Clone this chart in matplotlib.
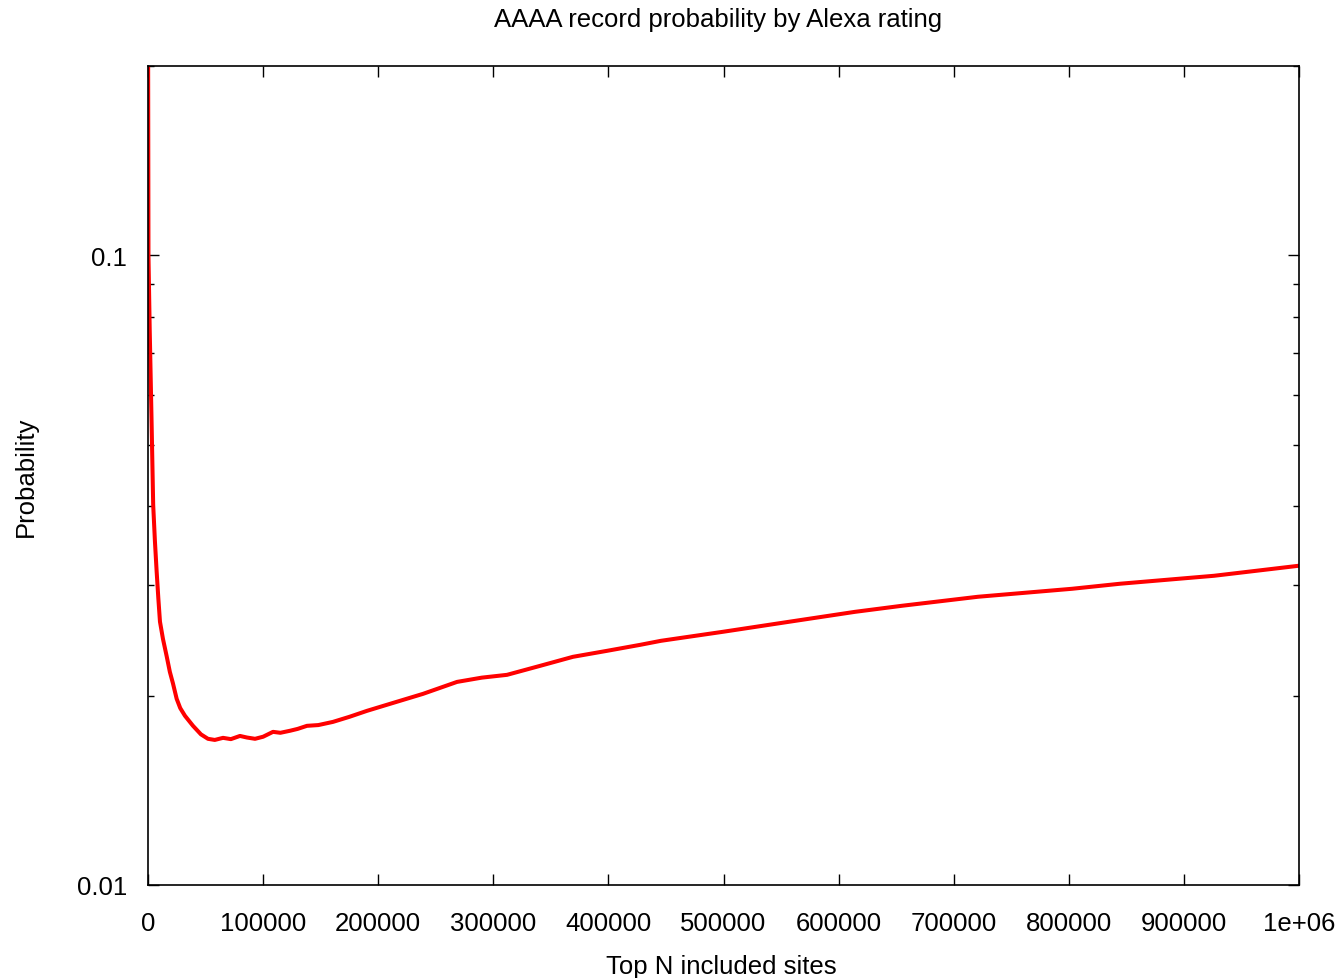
import matplotlib
matplotlib.use("Agg")
import matplotlib.pyplot as plt
from matplotlib.ticker import LogLocator, FixedLocator, FixedFormatter, NullFormatter

plt.rcParams['font.family'] = ['Liberation Sans', 'DejaVu Sans']

title = "AAAA record probability by Alexa rating"
xlabel = "Top N included sites"
ylabel = "Probability"

sites = [100, 400, 1500, 3000, 4500, 6000, 7500, 9000, 10400, 13000, 16200, 19000, 21700, 24900,
         28000, 32100, 39100, 46000, 52100, 58000, 65200, 72000, 79900, 86000, 93000,
         100000, 108600, 115000, 123400, 130000, 138100, 148000, 160700, 175000,
         190300, 210300, 238900, 268500, 290000, 311900, 340600, 369200, 398800,
         427500, 445700, 499600, 556900, 614200, 655100, 721100, 802800, 844500,
         926200, 1000000]
prob = [0.21, 0.100, 0.076, 0.0557, 0.0402, 0.0352, 0.0315, 0.0285, 0.0262, 0.0246, 0.0231, 0.0218, 0.0209, 0.01976,
        0.01910, 0.01857, 0.01790, 0.01735, 0.01707, 0.01700, 0.01713, 0.01705, 0.01725, 0.01715, 0.01707,
        0.01720, 0.01751, 0.01745, 0.01758, 0.01770, 0.01790, 0.01795, 0.01816, 0.01850,
        0.01891, 0.01940, 0.02012, 0.02102, 0.02135, 0.02157, 0.02229, 0.02304, 0.02355,
        0.02407, 0.02443, 0.02525, 0.02619, 0.02716, 0.02777, 0.02870, 0.02955, 0.03010,
        0.03099, 0.03215]

xticks = [0, 100000, 200000, 300000, 400000, 500000, 600000, 700000, 800000, 900000, 1000000]
xticklabels = ["0", "100000", "200000", "300000", "400000", "500000", "600000",
               "700000", "800000", "900000", "1e+06"]
yticks = [0.01, 0.1]
yticklabels = ["0.01", "0.1"]

fig = plt.figure(figsize=(13.39, 9.79), dpi=100)
ax = fig.add_axes([148/1339, 1-886/979, (1299-148)/1339, (886-67)/979])

ax.plot(sites, prob, color="#ff0000", lw=2.9, solid_joinstyle='round', clip_on=True)

ax.set_yscale('log')
ax.set_xlim(0, 1000000)
ax.set_ylim(0.01, 0.2)

ax.xaxis.set_major_locator(FixedLocator(xticks))
ax.xaxis.set_major_formatter(FixedFormatter(xticklabels))
ax.yaxis.set_major_locator(FixedLocator(yticks))
ax.yaxis.set_major_formatter(FixedFormatter(yticklabels))
ax.yaxis.set_minor_locator(LogLocator(base=10, subs=[2, 3, 4, 5, 6, 7, 8, 9]))
ax.yaxis.set_minor_formatter(NullFormatter())

ax.tick_params(which='both', direction='in', top=True, right=True, labelsize=18.5,
               width=1.0, color='black')
ax.tick_params(which='major', length=8)
ax.tick_params(axis='x', which='major', pad=19)
ax.tick_params(axis='y', which='major', pad=15)
ax.tick_params(which='minor', length=4)
for s in ax.spines.values():
    s.set_linewidth(1.2)

fig.text(718/1339, 1-20/979, title, ha='center', va='center', fontsize=18.5)
fig.text(721/1339, 1-967/979, xlabel, ha='center', va='center', fontsize=18.5)
fig.text(26/1339, 1-477/979, ylabel, ha='center', va='center', rotation=90, fontsize=18.5)

fig.savefig("out.png", dpi=100)
